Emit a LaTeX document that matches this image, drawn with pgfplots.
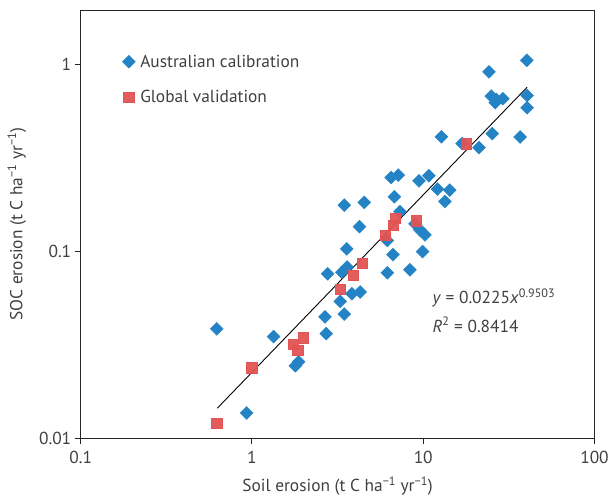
\documentclass[border=0pt]{standalone}
\usepackage{fontspec}
\setmainfont{PT Sans}
\usepackage{pgfplots}
\pgfplotsset{compat=1.18}
\definecolor{ausblue}{RGB}{36,131,197}
\definecolor{globred}{RGB}{226,84,84}
\definecolor{txt}{RGB}{64,64,64}

\begin{document}
\begin{tikzpicture}
\begin{loglogaxis}[
  width=516bp, height=430bp, scale only axis,
  xmin=0.1, xmax=100, ymin=0.01, ymax=1.96,
  xtick={0.1,1,10,100}, xticklabels={0.1,1,10,100},
  ytick={0.01,0.1,1}, yticklabels={0.01,0.1,1},
  minor tick length=0pt, major tick length=6bp,
  tick align=outside, tick pos=left,
  axis line style={black!85, line width=0.9pt},
  tick style={black!85, line width=0.9pt},
  font=\fontsize{17.5}{20}\selectfont,
  every tick label/.append style={txt},
  /pgf/number format/assume math mode=true,
  xticklabel style={yshift=-4bp},
  xlabel={Soil erosion (t C ha\textsuperscript{−1} yr\textsuperscript{−1})},
  ylabel={SOC erosion (t C ha\textsuperscript{−1} yr\textsuperscript{−1})},
  xlabel style={yshift=-6bp},
  ylabel style={yshift=6bp},
  label style={txt},
  legend cell align=left,
  legend style={draw=none, fill=none, at={(rel axis cs:0.075,0.905)},
    anchor=north west, row sep=18bp, text=txt,
    /tikz/every odd column/.append style={column sep=3bp}},
]

% Australian calibration
\addplot[only marks, mark=square*, mark size=4.6bp,
  mark options={rotate=45, draw=ausblue, fill=ausblue}] coordinates {
  (0.6235,0.0385)(0.9315,0.01365)(1.337,0.0350)(1.795,0.02442)(1.876,0.02565)
  (2.668,0.0446)(2.718,0.0363)(2.766,0.0759)(3.280,0.0540)(3.459,0.0462)
  (3.350,0.0773)(3.592,0.0824)(3.577,0.1031)(3.830,0.0593)(4.285,0.0606)
  (3.459,0.1770)(4.521,0.1830)(4.246,0.1356)(6.175,0.0768)(6.175,0.1142)
  (6.665,0.0961)(6.490,0.2487)(7.154,0.2559)(6.783,0.1960)(7.318,0.1630)
  (8.368,0.0797)(8.949,0.1402)(9.568,0.1302)(10.23,0.1225)(9.906,0.0998)
  (9.441,0.2385)(10.79,0.2537)(12.11,0.2154)(14.30,0.2128)(13.37,0.1848)
  (12.78,0.4106)(16.86,0.3777)(21.17,0.3595)(25.29,0.4270)(36.79,0.4095)
  (24.20,0.9145)(40.24,1.054)(24.95,0.6775)(26.68,0.6505)(29.18,0.6562)
  (26.32,0.6251)(40.40,0.6833)(40.40,0.5875)};
\addlegendentry{Australian calibration}

% Global validation
\addplot[only marks, mark=square*, mark size=5.2bp,
  mark options={draw=globred, fill=globred, fill opacity=0.95}] coordinates {
  (0.6235,0.01202)(0.996,0.02383)(1.739,0.03184)(1.851,0.02958)(1.987,0.03457)
  (3.271,0.0626)(3.896,0.0745)(4.419,0.0865)(5.989,0.1220)(6.693,0.1385)
  (6.847,0.1509)(9.070,0.1460)(17.85,0.3777)};
\addlegendentry{Global validation}

% power-law fit y = 0.0225 x^0.9503, drawn between its two end points
\addplot[black, line width=0.9pt, forget plot] coordinates {(0.628,0.01447)(40.4,0.756)};

\node[anchor=west, text=txt] at (rel axis cs:0.678,0.327)
  {\textit{y} = 0.0225\textit{x}\textsuperscript{0.9503}};
\node[anchor=west, text=txt] at (rel axis cs:0.678,0.265)
  {\textit{R}\textsuperscript{2} = 0.8414};
\end{loglogaxis}
\path (current axis.south west) ++(-81bp,-58bp) coordinate (bl);
\path (current axis.north east) ++(15bp,10bp) coordinate (tr);
\path (bl) rectangle (tr);
\end{tikzpicture}
\end{document}
